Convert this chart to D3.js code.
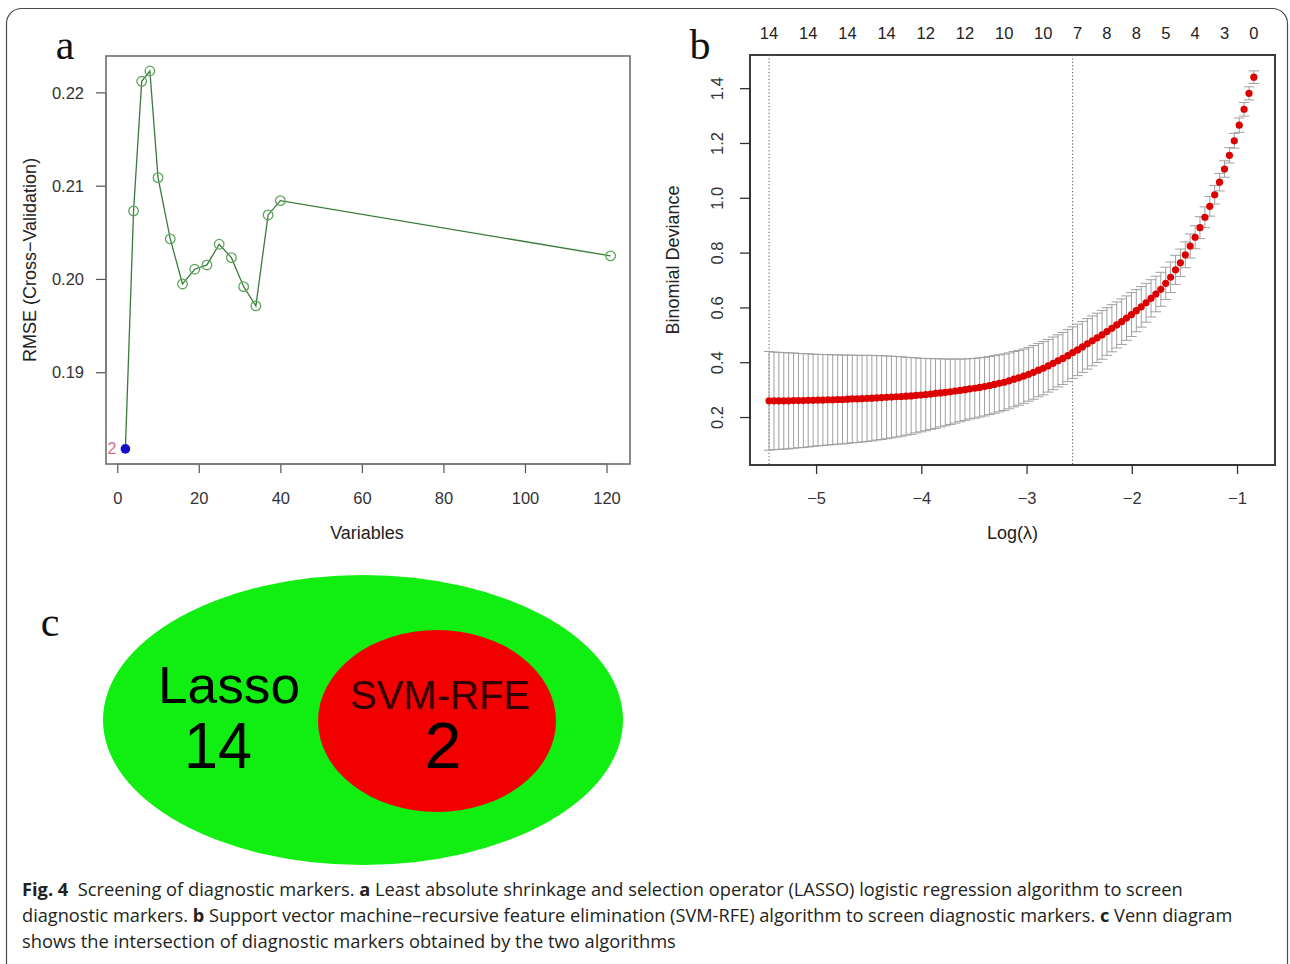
<!DOCTYPE html>
<html>
<head>
<meta charset="utf-8">
<script src="https://d3js.org/d3.v7.min.js"></script>
<style>
  html, body { margin: 0; padding: 0; background: #ffffff; }
  svg { display: block; }
</style>
</head>
<body>
<svg id="fig" width="1290" height="964"></svg>
<script>
// ---------------- Panel a: SVM-RFE cross-validation ----------------
const rfeVariables = [2, 4, 6, 8, 10, 13, 16, 19, 22, 25, 28, 31, 34, 37, 40, 121];
const rfeRMSE = [0.18178, 0.20729, 0.22119, 0.22229, 0.21086, 0.20429, 0.19946, 0.20104,
                 0.20150, 0.20372, 0.20228, 0.19917, 0.19711, 0.20686, 0.20839, 0.20247];
const rfeBestIndex = 0;
const rfeXTicks = [0, 20, 40, 60, 80, 100, 120];
const rfeYTicks = [0.19, 0.20, 0.21, 0.22];

// ---------------- Panel b: LASSO cv.glmnet ----------------
const logLambda = [
  -5.447, -5.400, -5.354, -5.307, -5.261, -5.214, -5.168, -5.121, -5.075, -5.028,
  -4.982, -4.935, -4.889, -4.842, -4.795, -4.749, -4.702, -4.656, -4.609, -4.563,
  -4.516, -4.470, -4.423, -4.377, -4.330, -4.284, -4.237, -4.191, -4.144, -4.097,
  -4.051, -4.004, -3.958, -3.911, -3.865, -3.818, -3.772, -3.725, -3.679, -3.632,
  -3.585, -3.539, -3.492, -3.446, -3.399, -3.353, -3.306, -3.260, -3.213, -3.167,
  -3.120, -3.074, -3.027, -2.980, -2.934, -2.887, -2.841, -2.794, -2.748, -2.701,
  -2.655, -2.608, -2.562, -2.515, -2.469, -2.422, -2.375, -2.329, -2.282, -2.236,
  -2.189, -2.143, -2.096, -2.050, -2.003, -1.957, -1.910, -1.864, -1.817, -1.771,
  -1.724, -1.677, -1.631, -1.584, -1.538, -1.491, -1.445, -1.398, -1.352, -1.305,
  -1.259, -1.212, -1.166, -1.119, -1.072, -1.026, -0.979, -0.933, -0.886, -0.840];
const cvMean = [
  0.259, 0.259, 0.259, 0.259, 0.259, 0.260, 0.260, 0.260, 0.261, 0.261,
  0.262, 0.262, 0.263, 0.263, 0.264, 0.264, 0.265, 0.266, 0.266, 0.267,
  0.268, 0.269, 0.270, 0.271, 0.272, 0.273, 0.274, 0.275, 0.276, 0.277,
  0.279, 0.280, 0.282, 0.284, 0.286, 0.288, 0.290, 0.292, 0.295, 0.297,
  0.300, 0.303, 0.305, 0.308, 0.311, 0.315, 0.319, 0.323, 0.327, 0.332,
  0.338, 0.343, 0.349, 0.356, 0.363, 0.371, 0.378, 0.387, 0.396, 0.405,
  0.414, 0.424, 0.435, 0.445, 0.456, 0.467, 0.478, 0.489, 0.500, 0.512,
  0.524, 0.536, 0.548, 0.561, 0.574, 0.588, 0.602, 0.617, 0.633, 0.649,
  0.666, 0.688, 0.710, 0.737, 0.763, 0.792, 0.824, 0.856, 0.891, 0.929,
  0.969, 1.011, 1.057, 1.105, 1.155, 1.208, 1.265, 1.323, 1.381, 1.440];
const cvSE = [
  0.180, 0.178, 0.177, 0.176, 0.175, 0.174, 0.172, 0.171, 0.170, 0.168,
  0.167, 0.166, 0.165, 0.164, 0.163, 0.162, 0.161, 0.160, 0.159, 0.158,
  0.157, 0.156, 0.154, 0.153, 0.151, 0.149, 0.147, 0.145, 0.142, 0.140,
  0.137, 0.134, 0.132, 0.129, 0.127, 0.124, 0.122, 0.119, 0.117, 0.114,
  0.112, 0.110, 0.109, 0.108, 0.107, 0.106, 0.105, 0.104, 0.103, 0.102,
  0.101, 0.100, 0.099, 0.098, 0.098, 0.097, 0.097, 0.096, 0.096, 0.095,
  0.095, 0.095, 0.094, 0.094, 0.093, 0.092, 0.091, 0.090, 0.089, 0.087,
  0.086, 0.084, 0.083, 0.081, 0.080, 0.077, 0.074, 0.071, 0.068, 0.065,
  0.062, 0.059, 0.056, 0.053, 0.050, 0.047, 0.044, 0.042, 0.040, 0.038,
  0.036, 0.034, 0.032, 0.030, 0.028, 0.027, 0.026, 0.025, 0.024, 0.023];
const topLabelLogLambda = [-5.447, -5.075, -4.702, -4.330, -3.958, -3.585, -3.213, -2.841,
                           -2.515, -2.236, -1.957, -1.677, -1.398, -1.119, -0.840];
const topLabelCounts = ["14", "14", "14", "14", "12", "12", "10", "10", "7", "8", "8", "5", "4", "3", "0"];
const lambdaMinLog = -5.447;
const lambda1seLog = -2.562;
const lassoXTicks = [-5, -4, -3, -2, -1];
const lassoYTicks = [0.2, 0.4, 0.6, 0.8, 1.0, 1.2, 1.4];

// ---------------- Panel c: Venn ----------------
const vennSets = ["Lasso", "SVM-RFE"];
const vennCounts = [14, 2];

// ---------------- Caption ----------------
const captionLines = [
  [["Fig. 4", true], ["\u00a0 Screening of diagnostic markers. ", false], ["a", true],
   [" Least absolute shrinkage and selection operator (LASSO) logistic regression algorithm to screen", false]],
  [["diagnostic markers. ", false], ["b", true],
   [" Support vector machine\u2013recursive feature elimination (SVM-RFE) algorithm to screen diagnostic markers. ", false],
   ["c", true], [" Venn diagram", false]],
  [["shows the intersection of diagnostic markers obtained by the two algorithms", false]]
];

// =====================================================================
const svg = d3.select("#fig");
const FONT = "'Liberation Sans', Arial, Helvetica, sans-serif";
const SERIF = "'Liberation Serif', 'Times New Roman', serif";
const CAPFONT = "'Open Sans', 'Noto Sans', sans-serif";
const minus = s => s.replace("-", "\u2212");
const TICK_FS = 16.5, TITLE_FS = 18;

// outer frame
svg.append("rect")
  .attr("x", 6.5).attr("y", 8.5).attr("width", 1281).attr("height", 990)
  .attr("rx", 15).attr("ry", 15)
  .attr("fill", "none").attr("stroke", "#4a4a4a").attr("stroke-width", 1.2);

// ---------------- Panel a ----------------
{
  const L = 106, R = 630, T = 56, B = 464;
  const x = d3.scaleLinear().domain([-2.76, 125.76]).range([L, R]);
  const y = d3.scaleLinear().domain([0.18016, 0.2239]).range([B, T]);
  const g = svg.append("g");

  svg.append("text").text("a").attr("x", 65).attr("y", 59)
    .attr("text-anchor", "middle").attr("font-family", SERIF).attr("font-size", 42).attr("fill", "#111");

  const xa = g.append("g").attr("transform", `translate(0,${B})`)
    .call(d3.axisBottom(x).tickValues(rfeXTicks).tickSize(9).tickFormat(d3.format("d")));
  xa.select(".domain").attr("d", `M${x(rfeXTicks[0])},0H${x(rfeXTicks[rfeXTicks.length-1])}`).attr("stroke", "#666");
  xa.selectAll(".tick line").attr("stroke", "#555").attr("stroke-width", 1.2);
  xa.selectAll(".tick text").attr("y", 34).attr("dy", "0.35em")
    .attr("font-family", FONT).attr("font-size", TICK_FS).attr("fill", "#333");

  const ya = g.append("g").attr("transform", `translate(${L},0)`)
    .call(d3.axisLeft(y).tickValues(rfeYTicks).tickSize(10).tickFormat(d3.format(".2f")));
  ya.select(".domain").attr("d", `M0,${y(rfeYTicks[0])}V${y(rfeYTicks[rfeYTicks.length-1])}`).attr("stroke", "#666");
  ya.selectAll(".tick line").attr("stroke", "#555").attr("stroke-width", 1.2);
  ya.selectAll(".tick text").attr("x", -22).attr("dy", "0.35em")
    .attr("font-family", FONT).attr("font-size", TICK_FS).attr("fill", "#333");

  g.append("rect").attr("x", L).attr("y", T).attr("width", R - L).attr("height", B - T)
    .attr("fill", "none").attr("stroke", "#6e6e6e").attr("stroke-width", 1.6);

  const pts = rfeVariables.map((v, i) => ({ v, r: rfeRMSE[i], i }));
  g.append("path").datum(pts)
    .attr("d", d3.line().x(d => x(d.v)).y(d => y(d.r)))
    .attr("fill", "none").attr("stroke", "#3a7a3a").attr("stroke-width", 1.3);
  g.selectAll("circle.pt").data(pts.filter(d => d.i !== rfeBestIndex)).enter()
    .append("circle").attr("class", "pt")
    .attr("cx", d => x(d.v)).attr("cy", d => y(d.r)).attr("r", 4.8)
    .attr("fill", "none").attr("stroke", "#5ea65e").attr("stroke-width", 1.3);
  const best = pts[rfeBestIndex];
  g.append("circle").attr("cx", x(best.v)).attr("cy", y(best.r)).attr("r", 4.8).attr("fill", "#1010c8");
  g.append("text").text(String(best.v)).attr("x", x(best.v) - 9).attr("y", y(best.r)).attr("dy", "0.35em")
    .attr("text-anchor", "end").attr("font-family", FONT).attr("font-size", 16).attr("fill", "#d6708a");

  g.append("text").text("Variables").attr("x", (L + R) / 2 - 1).attr("y", 539)
    .attr("text-anchor", "middle").attr("font-family", FONT).attr("font-size", TITLE_FS).attr("fill", "#222");
  g.append("text").text("RMSE (Cross\u2212Validation)")
    .attr("transform", `translate(36,${(T + B) / 2}) rotate(-90)`)
    .attr("text-anchor", "middle").attr("font-family", FONT).attr("font-size", TITLE_FS).attr("fill", "#222");
}

// ---------------- Panel b ----------------
{
  const L = 750, R = 1275, T = 55, B = 465;
  const x = d3.scaleLinear().domain([-5.628, -0.639]).range([L, R]);
  const y = d3.scaleLinear().domain([0.025, 1.521]).range([B, T]);
  const g = svg.append("g");

  svg.append("text").text("b").attr("x", 700).attr("y", 59)
    .attr("text-anchor", "middle").attr("font-family", SERIF).attr("font-size", 42).attr("fill", "#111");

  const xa = g.append("g").attr("transform", `translate(0,${B})`)
    .call(d3.axisBottom(x).tickValues(lassoXTicks).tickSize(9).tickFormat(d => minus(String(d))));
  xa.select(".domain").attr("d", `M${x(lassoXTicks[0])},0H${x(lassoXTicks[lassoXTicks.length-1])}`).attr("stroke", "#333");
  xa.selectAll(".tick line").attr("stroke", "#333").attr("stroke-width", 1.3);
  xa.selectAll(".tick text").attr("y", 33).attr("dy", "0.35em")
    .attr("font-family", FONT).attr("font-size", TICK_FS).attr("fill", "#333");

  const ya = g.append("g").attr("transform", `translate(${L},0)`)
    .call(d3.axisLeft(y).tickValues(lassoYTicks).tickSize(10).tickFormat(d3.format(".1f")));
  ya.select(".domain").attr("d", `M0,${y(lassoYTicks[0])}V${y(lassoYTicks[lassoYTicks.length-1])}`).attr("stroke", "#333");
  ya.selectAll(".tick line").attr("stroke", "#333").attr("stroke-width", 1.3);
  ya.selectAll(".tick text").attr("x", 0).attr("dy", 0)
    .attr("transform", "translate(-33,0) rotate(-90)")
    .attr("text-anchor", "middle").attr("dominant-baseline", "central")
    .attr("font-family", FONT).attr("font-size", TICK_FS).attr("fill", "#333");

  g.append("rect").attr("x", L).attr("y", T).attr("width", R - L).attr("height", B - T)
    .attr("fill", "none").attr("stroke", "#2a2a2a").attr("stroke-width", 1.8);

  // top labels (number of non-zero coefficients)
  g.selectAll("text.top").data(topLabelLogLambda).enter().append("text").attr("class", "top")
    .text((d, i) => topLabelCounts[i]).attr("x", d => x(d)).attr("y", 33).attr("dy", "0.35em")
    .attr("text-anchor", "middle").attr("font-family", FONT).attr("font-size", TICK_FS).attr("fill", "#222");

  // dotted reference lines
  g.selectAll("line.ref").data([lambdaMinLog, lambda1seLog]).enter().append("line").attr("class", "ref")
    .attr("x1", d => x(d)).attr("x2", d => x(d)).attr("y1", T).attr("y2", B)
    .attr("stroke", "#555").attr("stroke-width", 1).attr("stroke-dasharray", "1.2,2.2");

  const pts = logLambda.map((l, i) => ({ l, m: cvMean[i], s: cvSE[i] }));
  const capW = 0.05;
  const eb = g.append("g").attr("stroke", "#a0a0a0").attr("stroke-width", 1).attr("fill", "none");
  eb.selectAll("line.v").data(pts).enter().append("line")
    .attr("x1", d => x(d.l)).attr("x2", d => x(d.l)).attr("y1", d => y(d.m + d.s)).attr("y2", d => y(d.m - d.s));
  eb.selectAll("line.u").data(pts).enter().append("line")
    .attr("x1", d => x(d.l - capW)).attr("x2", d => x(d.l + capW)).attr("y1", d => y(d.m + d.s)).attr("y2", d => y(d.m + d.s));
  eb.selectAll("line.d").data(pts).enter().append("line")
    .attr("x1", d => x(d.l - capW)).attr("x2", d => x(d.l + capW)).attr("y1", d => y(d.m - d.s)).attr("y2", d => y(d.m - d.s));

  g.selectAll("circle.m").data(pts).enter().append("circle").attr("class", "m")
    .attr("cx", d => x(d.l)).attr("cy", d => y(d.m)).attr("r", 3.6).attr("fill", "#dd0000");

  g.append("text").text("Log(\u03bb)").attr("x", (L + R) / 2).attr("y", 539)
    .attr("text-anchor", "middle").attr("font-family", FONT).attr("font-size", TITLE_FS).attr("fill", "#222");
  g.append("text").text("Binomial Deviance")
    .attr("transform", `translate(679,${(T + B) / 2}) rotate(-90)`)
    .attr("text-anchor", "middle").attr("font-family", FONT).attr("font-size", TITLE_FS).attr("fill", "#222");
}

// ---------------- Panel c: Venn ----------------
{
  const g = svg.append("g");
  svg.append("text").text("c").attr("x", 50).attr("y", 636)
    .attr("text-anchor", "middle").attr("font-family", SERIF).attr("font-size", 42).attr("fill", "#111");

  const shapes = [
    { cx: 363, cy: 720, rx: 260, ry: 145, fill: "#11ee11" },
    { cx: 437, cy: 721, rx: 119, ry: 91, fill: "#f20000" }
  ];
  g.selectAll("ellipse").data(shapes).enter().append("ellipse")
    .attr("cx", d => d.cx).attr("cy", d => d.cy).attr("rx", d => d.rx).attr("ry", d => d.ry)
    .attr("fill", d => d.fill);

  const labels = [
    { t: vennSets[0], x: 229, y: 703, size: 52, fill: "#000", w: 142 },
    { t: String(vennCounts[0]), x: 218, y: 768, size: 64, fill: "#000", w: 68 },
    { t: vennSets[1], x: 440, y: 709, size: 40, fill: "#300000", w: 180 },
    { t: String(vennCounts[1]), x: 443, y: 768, size: 64, fill: "#000", w: 37 }
  ];
  g.selectAll("text").data(labels).enter().append("text")
    .text(d => d.t).attr("x", d => d.x).attr("y", d => d.y)
    .attr("text-anchor", "middle").attr("font-family", FONT).attr("font-size", d => d.size)
    .attr("textLength", d => d.w).attr("lengthAdjust", "spacingAndGlyphs")
    .attr("fill", d => d.fill);
}

// ---------------- Caption ----------------
{
  const widths = [1161, 1211, 654];
  const baselines = [896, 922, 948];
  const FS0 = 18.5;
  captionLines.forEach((line, li) => {
    const t = svg.append("text").attr("x", 22).attr("y", baselines[li])
      .attr("font-family", CAPFONT).attr("font-size", FS0).attr("fill", "#231f20");
    line.forEach(([s, bold]) => {
      t.append("tspan").text(s).attr("font-weight", bold ? 700 : 400);
    });
    // fit the line width by adjusting font size (no glyph stretching)
    const w = t.node().getComputedTextLength();
    t.attr("font-size", (FS0 * widths[li] / w).toFixed(2));
  });
}
</script>
</body>
</html>
